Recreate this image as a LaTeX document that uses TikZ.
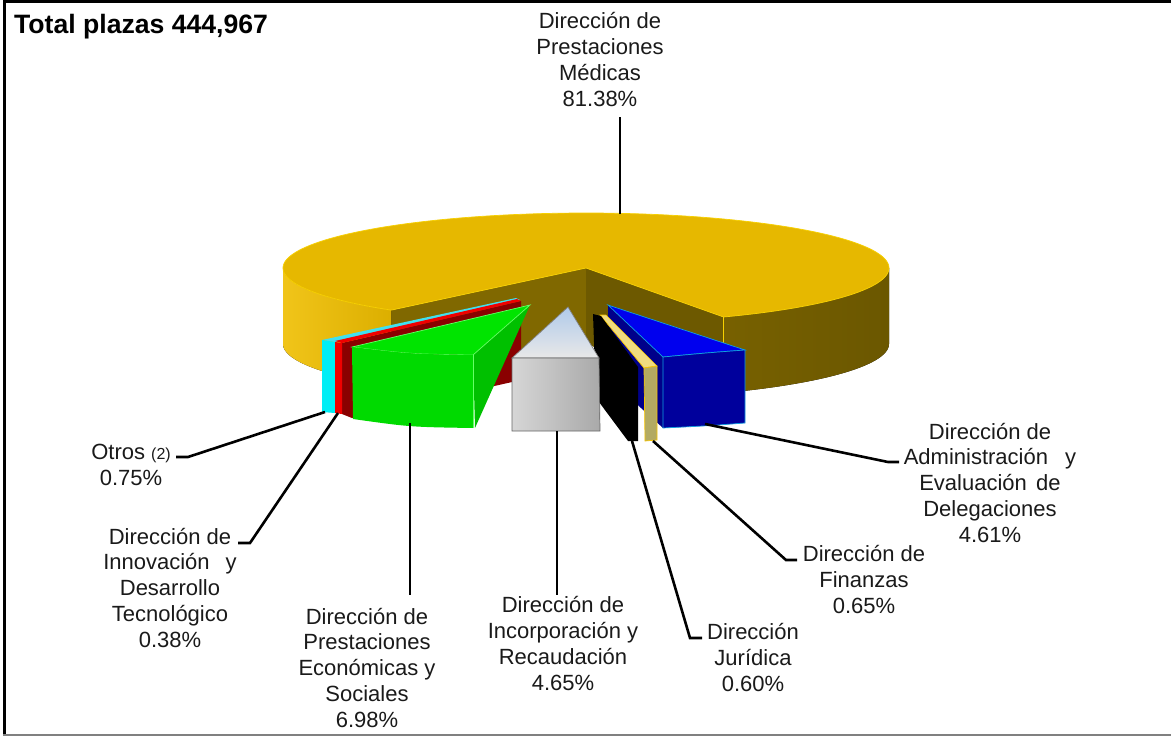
\documentclass[tikz,border=0pt]{standalone}
\usepackage{fontspec}
\setmainfont{Liberation Sans}
\definecolor{goldtop}{HTML}{E6B800}
\definecolor{goldleft}{HTML}{EFBE00}
\definecolor{goldcutL}{HTML}{806800}
\definecolor{goldcutR}{HTML}{6D5900}
\definecolor{goldside}{HTML}{6B5700}
\definecolor{goldedge}{HTML}{F7D000}
\definecolor{cyanA}{HTML}{00EEF5}
\definecolor{cyanB}{HTML}{40E0F0}
\definecolor{redA}{HTML}{F00000}
\definecolor{redB}{HTML}{8A0000}
\definecolor{greenTop}{HTML}{00E400}
\definecolor{greenFront}{HTML}{00DA00}
\definecolor{greenSide}{HTML}{00C000}
\definecolor{greyL}{HTML}{D6D6D6}
\definecolor{greyR}{HTML}{A9A9A9}
\definecolor{greyTopA}{HTML}{B0CAEA}
\definecolor{greyTopB}{HTML}{E8E8E8}
\definecolor{yelTop}{HTML}{F0DC80}
\definecolor{yelFront}{HTML}{B3AA62}
\definecolor{yelEdge}{HTML}{F5C400}
\definecolor{blueTop}{HTML}{0000EE}
\definecolor{blueFront}{HTML}{00009C}
\definecolor{blueSide}{HTML}{00008A}
\definecolor{blueEdge}{HTML}{10A0E0}
\definecolor{txt}{HTML}{1A1A1A}
\tikzset{
  lab/.style={anchor=base, align=center, inner sep=0pt, text=txt, font=\fontsize{22}{25.7}\selectfont},
  leader/.style={draw=black, line width=2.6pt},
  edge/.style={line width=0.7pt}
}
\begin{document}
\begin{tikzpicture}[x=1pt,y=-1pt]
\useasboundingbox (0,0) rectangle (1171,736);
\fill[white] (0,0) rectangle (1171,736);
% frame
\draw[line width=3pt] (4.5,0) -- (4.5,736);
\draw[line width=3pt] (3,1.5) -- (1171,1.5);
\draw[line width=2pt, gray] (3,735) -- (1171,735);

% ---- gold pie (Prestaciones Medicas) ----
\coordinate (C) at (586,268);
\coordinate (Cb) at (586,344);
\coordinate (L) at ({586+303*cos(130)},{268+55*sin(130)});
\coordinate (R) at ({586+303*cos(63)},{268+55*sin(63)});
% cut faces
\fill[goldcutL] (C) -- (L) -- ++(0,76) -- (Cb) -- cycle;
\fill[goldcutR] (C) -- (R) -- ++(0,76) -- (Cb) -- cycle;
% outer sides
\fill[left color=goldleft!90!white, right color=goldleft!92!black]
  plot[variable=\t, domain=130:180, samples=30] ({586+303*cos(\t)},{268+55*sin(\t)})
  -- plot[variable=\t, domain=180:130, samples=30] ({586+303*cos(\t)},{344+55*sin(\t)}) -- cycle;
\fill[left color=goldside!100!white!90!goldtop, right color=goldside]
  plot[variable=\t, domain=0:63, samples=30] ({586+303*cos(\t)},{268+55*sin(\t)})
  -- plot[variable=\t, domain=63:0, samples=30] ({586+303*cos(\t)},{344+55*sin(\t)}) -- cycle;
\draw[goldedge, edge] (R) -- ++(0,76);
% top
\fill[goldtop, draw=goldedge, edge] (C) -- (L)
  -- plot[variable=\t, domain=130:423, samples=150] ({586+303*cos(\t)},{268+55*sin(\t)}) -- cycle;

% ---- cyan (Otros) ----
\fill[cyanB] (322,340) -- (516,298) -- (520,300) -- (335,342) -- cycle;
\fill[cyanA] (322,340) -- (335,342) -- (335,413) -- (322,412) -- cycle;
\coordinate (cyanP) at (325,412);

% ---- red (Innovacion) ----
\fill[redB] (342,343) -- (521,301) -- (521,380) -- (352,418) -- (342,414) -- cycle;
\fill[redA] (335,341) -- (517,299) -- (521,301) -- (342,343) -- cycle;
\fill[redA] (335,342) -- (342,343) -- (342,414) -- (335,413) -- cycle;
\coordinate (redP) at (338,413);

% ---- green (Prestaciones Economicas) ----
\fill[greenSide] (473,355) -- (530,305) -- (475,428) -- cycle;
\fill[greenTop, draw=green!60!white, edge] (352,347) -- (530,305) -- (473,355) .. controls (410,354) .. (352,347) -- cycle;
\fill[greenFront] (352,347) .. controls (410,354) .. (473,355) -- (473,428) .. controls (410,427) .. (353,419) -- cycle;
\draw[green!60!white, line width=0.5pt] (473,355) -- (473,428);
\coordinate (greenP) at (410,423);

% ---- blue (Administracion) ----
\fill[blueSide] (608,305) -- (663,357) -- (663,428) -- (608,378) -- cycle;
\fill[blueTop, draw=blueEdge, edge] (608,305) -- (745,350) .. controls (705,353) .. (663,357) -- cycle;
\fill[blueFront, draw=blueEdge, edge] (663,357) .. controls (705,353) .. (745,350) -- (745,423) .. controls (705,426) .. (663,428) -- cycle;
\coordinate (blueP) at (705,424);

% ---- yellow (Finanzas) ----
\fill[yelTop, draw=yelEdge, edge] (600,315) -- (606,315) -- (657,366) -- (644,368) -- cycle;
\fill[yelFront, draw=yelEdge, edge] (644,368) -- (657,366) -- (657,440) -- (645,441) -- cycle;
\coordinate (yelP) at (653,441);

% ---- black (Juridica) ----
\fill[black] (593,314) -- (601,316) -- (638,367) -- (638,441) -- (628,441) -- (596,398) -- cycle;
\coordinate (blkP) at (632,441);

% ---- grey (Incorporacion) ----
\shade[top color=greyTopA, bottom color=greyTopB, draw=gray, edge] (512,358) -- (568,307) -- (599,358) -- cycle;
\shade[left color=greyL, right color=greyR, draw=black!60, edge] (512,358) -- (599,358) -- (600,431) -- (512,431) -- cycle;
\coordinate (greyP) at (557,431);

% ---- title ----
\node[anchor=base west, inner sep=0pt, font=\bfseries\fontsize{26.6}{30}\selectfont, text=black] (title) at (14,33) {Total plazas 444,967};

% ---- labels (anchor = baseline of last line) ----
\node[lab] (tMed) at (600,106) {Dirección de\\Prestaciones\\Médicas\\81.38\%};
\node[lab] (tOtr) at (131,485) {Otros {\fontsize{16}{18}\selectfont(2)}\\0.75\%};
\node[lab] (tInn) at (170,647) {Dirección de\\Innovación\hspace{0.45em} y\\Desarrollo\\Tecnológico\\0.38\%};
\node[lab] (tEco) at (367,727) {Dirección de\\Prestaciones\\Económicas y\\Sociales\\6.98\%};
\node[lab] (tInc) at (563,690) {Dirección de\\Incorporación y\\Recaudación\\4.65\%};
\node[lab] (tJur) at (753,691) {Dirección\\Jurídica\\0.60\%};
\node[lab] (tFin) at (864,613) {Dirección de\\Finanzas\\0.65\%};
\node[lab] (tAdm) at (990,542) {Dirección de\\Administración\hspace{0.5em} y\\Evaluación\hspace{0.15em} de\\Delegaciones\\4.61\%};

% ---- leader lines ----
\coordinate (medA) at (620,117);
\coordinate (medB) at (620,214);
\draw[leader] (medA) -- (medB);
\coordinate (otrA) at (176,457);
\coordinate (otrB) at (188,457);
\draw[leader] (otrA) -- (otrB) -- (cyanP);
\coordinate (innA) at (238,543);
\coordinate (innB) at (250,543);
\draw[leader] (innA) -- (innB) -- (redP);
\coordinate (ecoA) at (410,595);
\draw[leader] (greenP) -- (ecoA);
\coordinate (incA) at (557,595);
\draw[leader] (greyP) -- (incA);
\coordinate (jurA) at (690,638);
\coordinate (jurB) at (702,638);
\draw[leader] (blkP) -- (jurA) -- (jurB);
\coordinate (finA) at (786,560);
\coordinate (finB) at (797,560);
\draw[leader] (yelP) -- (finA) -- (finB);
\coordinate (admA) at (888,462);
\coordinate (admB) at (899,462);
\draw[leader] (blueP) -- (admA) -- (admB);
\end{tikzpicture}
\end{document}
